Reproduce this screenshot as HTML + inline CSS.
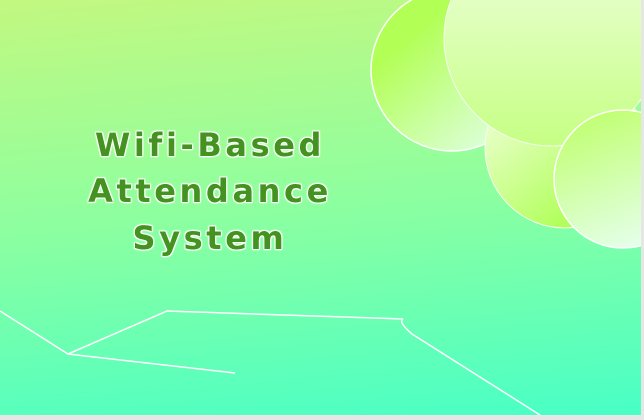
<!DOCTYPE html>
<html><head><style>
html,body{margin:0;padding:0;width:644px;height:420px;overflow:hidden;background:#e6e6e6}
.c{position:absolute;left:0;top:0;width:641px;height:415px;overflow:hidden;background:linear-gradient(175deg,#c2f880 0%,#8cffa0 50%,#48ffc6 100%)}
.t{position:absolute;left:0;width:420px;text-align:center;font-family:"DejaVu Sans","Liberation Sans",sans-serif;font-weight:bold;font-size:32px;letter-spacing:3.6px;color:#44921f;text-shadow:0 0 2px #fff,1px 1px 1px #fff,-1px -1px 1px #fff,1px -1px 1px #fff,-1px 1px 1px #fff}
</style></head><body>
<div class="c">
<svg width="641" height="415" style="position:absolute;left:0;top:0">
<defs>
<linearGradient id="g1" x1="0.2" y1="0.2" x2="0.8" y2="0.9"><stop offset="0.1" stop-color="#b2ff55"/><stop offset="1" stop-color="#dcffd8"/></linearGradient>
<linearGradient id="g2" x1="0" y1="0" x2="0" y2="1"><stop offset="0" stop-color="#f0ffe0"/><stop offset="1" stop-color="#c6ff84"/></linearGradient>
<linearGradient id="g3" x1="0.15" y1="0.1" x2="0.8" y2="0.9"><stop offset="0" stop-color="#f0ffd8"/><stop offset="0.85" stop-color="#b2ff5c"/></linearGradient>
<linearGradient id="g4" x1="0.3" y1="0" x2="0.7" y2="1"><stop offset="0" stop-color="#c0ff70"/><stop offset="1" stop-color="#e6fff0"/></linearGradient>
</defs>
<circle cx="452" cy="70" r="81" fill="url(#g1)" stroke="#fff" stroke-width="1.5"/>
<circle cx="565" cy="148" r="80" fill="url(#g3)" stroke="#f4fff0" stroke-width="1"/>
<circle cx="552" cy="38" r="108" fill="url(#g2)" stroke="#f4fff0" stroke-width="1"/>
<circle cx="623" cy="179" r="69" fill="url(#g4)" stroke="#fff" stroke-width="1.5"/>
<g fill="none" stroke="#fff" stroke-width="1.5">
<polyline points="0,311 68,354 235,373"/>
<polyline points="68,354 167,311 403,319"/>
<path d="M403,319 Q398,322 412,334 L540,415"/>
</g>
</svg>
<div class="t" style="top:126px">Wifi-Based</div>
<div class="t" style="top:172px">Attendance</div>
<div class="t" style="top:219px">System</div>
</div>
</body></html>
